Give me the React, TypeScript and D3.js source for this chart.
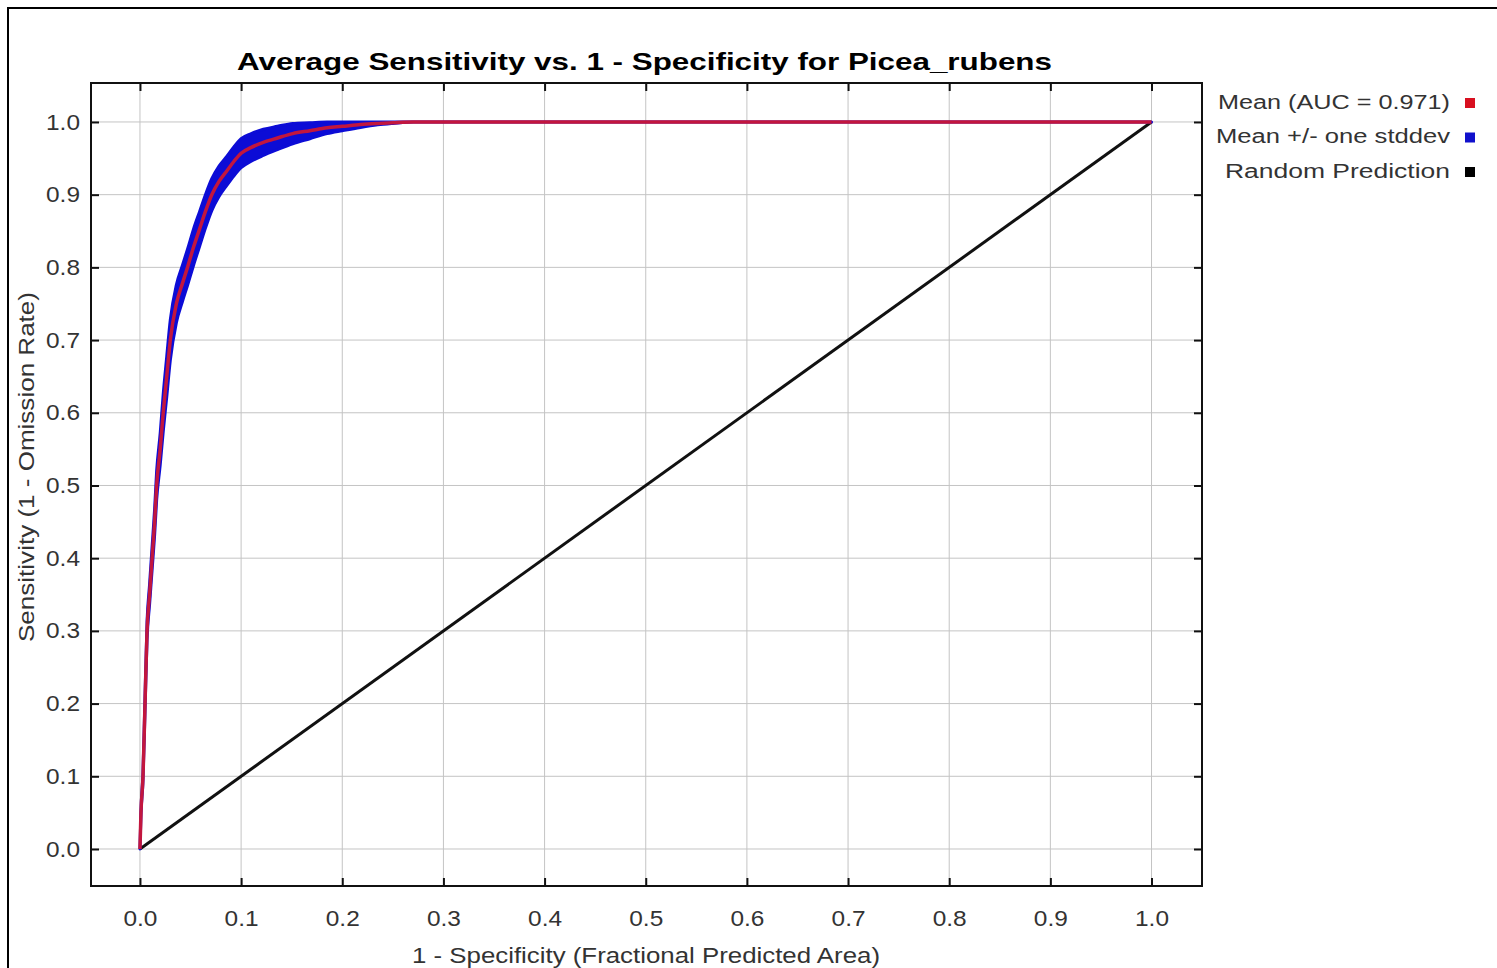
import React, { useEffect, useRef } from "react";
import * as d3 from "d3";

// ROC data
const fpr = [0, 0.001, 0.003, 0.005, 0.007, 0.0095, 0.012, 0.0145, 0.0165, 0.02, 0.023, 0.0265, 0.03, 0.036, 0.042, 0.047, 0.053, 0.059, 0.065, 0.071, 0.078, 0.086, 0.093, 0.1, 0.11, 0.122, 0.136, 0.151, 0.168, 0.185, 0.2, 0.218, 0.235, 0.25, 0.27, 0.35, 0.5, 0.75, 1.0];
const meanSens = [0, 0.05, 0.1, 0.2, 0.3, 0.35, 0.4, 0.45, 0.5, 0.55, 0.6, 0.65, 0.7, 0.75, 0.778, 0.8, 0.828, 0.853, 0.878, 0.9, 0.918, 0.933, 0.946, 0.957, 0.965, 0.972, 0.978, 0.984, 0.988, 0.992, 0.994, 0.9965, 0.998, 0.999, 1, 1, 1, 1, 1];
const sdSens = [0, 0.003, 0.006, 0.01, 0.012, 0.014, 0.016, 0.018, 0.02, 0.022, 0.026, 0.028, 0.028, 0.026, 0.025, 0.025, 0.025, 0.024, 0.023, 0.022, 0.021, 0.02, 0.02, 0.02, 0.019, 0.018, 0.016, 0.014, 0.011, 0.008, 0.006, 0.004, 0.002, 0.001, 0, 0, 0, 0, 0];
const randomFpr = [0, 1];
const randomSens = [0, 1];

const tickValues = [0, 0.1, 0.2, 0.3, 0.4, 0.5, 0.6, 0.7, 0.8, 0.9, 1.0];
const legendLabels = ["Mean (AUC = 0.971)", "Mean +/- one stddev", "Random Prediction"];
const legendColors = ["#d81020", "#1010cc", "#000000"];

const App = () => {
  const svgRef = useRef(null);

  useEffect(() => {
    const svg = d3.select(svgRef.current);
    svg.selectAll("*").remove();

    const width = 1497;
    const height = 968;
    const plot = { left: 91, right: 1202, top: 83, bottom: 886 };
    const font = "'Liberation Sans', Arial, sans-serif";

    svg.append("rect").attr("width", width).attr("height", height).attr("fill", "#fff");

    // outer frame (cropped at right/bottom)
    svg.append("path")
      .attr("d", `M8,${height + 2}V8H${width + 2}`)
      .attr("fill", "none").attr("stroke", "#000").attr("stroke-width", 2);

    const x = d3.scaleLinear().domain([-0.0484, 1.0499]).range([plot.left, plot.right]);
    const y = d3.scaleLinear().domain([-0.0509, 1.0536]).range([plot.bottom, plot.top]);

    // grid
    const grid = svg.append("g").attr("stroke", "#c4c4c4").attr("stroke-width", 1);
    grid.selectAll("line.v").data(tickValues).join("line").attr("class", "v")
      .attr("x1", d => x(d)).attr("x2", d => x(d))
      .attr("y1", plot.top).attr("y2", plot.bottom);
    grid.selectAll("line.h").data(tickValues).join("line").attr("class", "h")
      .attr("y1", d => y(d)).attr("y2", d => y(d))
      .attr("x1", plot.left).attr("x2", plot.right);

    const idx = d3.range(fpr.length);

    // random prediction
    const randLine = d3.line<number>().x(i => x(randomFpr[i])).y(i => y(randomSens[i]));
    svg.append("path").attr("d", randLine([0, 1]))
      .attr("fill", "none").attr("stroke", "#111").attr("stroke-width", 3);

    // stddev band
    const band = d3.area<number>()
      .x(i => x(fpr[i]))
      .y0(i => y(Math.max(0, meanSens[i] - sdSens[i])))
      .y1(i => y(Math.min(1, meanSens[i] + sdSens[i])))
      .curve(d3.curveMonotoneX);
    svg.append("path").attr("d", band(idx))
      .attr("fill", "#0c0cd6").attr("stroke", "#0c0cd6")
      .attr("stroke-width", 3).attr("stroke-linejoin", "round");

    // mean line
    const meanLine = d3.line<number>().x(i => x(fpr[i])).y(i => y(meanSens[i])).curve(d3.curveMonotoneX);
    svg.append("path").attr("d", meanLine(idx))
      .attr("fill", "none").attr("stroke", "#c2163e").attr("stroke-width", 3.5)
      .attr("stroke-linejoin", "round");

    // plot frame
    svg.append("rect")
      .attr("x", plot.left).attr("y", plot.top)
      .attr("width", plot.right - plot.left).attr("height", plot.bottom - plot.top)
      .attr("fill", "none").attr("stroke", "#111").attr("stroke-width", 2);

    const fmt = d3.format(".1f");
    const styleAxis = g => {
      g.select(".domain").remove();
      g.selectAll(".tick line").attr("stroke", "#111").attr("stroke-width", 2);
      g.selectAll(".tick text")
        .attr("fill", "#333")
        .style("font-family", font)
        .style("font-size", "22px")
        .attr("textLength", 34)
        .attr("lengthAdjust", "spacingAndGlyphs");
    };

    svg.append("g").attr("transform", `translate(0,${plot.bottom})`)
      .call(d3.axisBottom(x).tickValues(tickValues).tickFormat(fmt).tickSizeInner(-8).tickSizeOuter(0).tickPadding(24))
      .call(styleAxis);
    svg.append("g").attr("transform", `translate(${plot.left},0)`)
      .call(d3.axisLeft(y).tickValues(tickValues).tickFormat(fmt).tickSizeInner(-8).tickSizeOuter(0).tickPadding(11))
      .call(styleAxis);
    svg.append("g").attr("transform", `translate(0,${plot.top})`)
      .call(d3.axisTop(x).tickValues(tickValues).tickFormat(() => "").tickSizeInner(-8).tickSizeOuter(0))
      .call(styleAxis);
    svg.append("g").attr("transform", `translate(${plot.right},0)`)
      .call(d3.axisRight(y).tickValues(tickValues).tickFormat(() => "").tickSizeInner(-8).tickSizeOuter(0))
      .call(styleAxis);

    // title
    svg.append("text")
      .attr("x", 644.5).attr("y", 70)
      .attr("text-anchor", "middle")
      .attr("textLength", 815).attr("lengthAdjust", "spacingAndGlyphs")
      .style("font-family", font).style("font-size", "24px").style("font-weight", "bold")
      .attr("fill", "#000")
      .text("Average Sensitivity vs. 1 - Specificity for Picea_rubens");

    // axis labels
    svg.append("text")
      .attr("x", 646).attr("y", 963)
      .attr("text-anchor", "middle")
      .attr("textLength", 468).attr("lengthAdjust", "spacingAndGlyphs")
      .style("font-family", font).style("font-size", "22px")
      .attr("fill", "#333")
      .text("1 - Specificity (Fractional Predicted Area)");

    svg.append("text")
      .attr("transform", "translate(34,467) rotate(-90)")
      .attr("text-anchor", "middle")
      .attr("textLength", 350).attr("lengthAdjust", "spacingAndGlyphs")
      .style("font-family", font).style("font-size", "22px")
      .attr("fill", "#333")
      .text("Sensitivity (1 - Omission Rate)");

    // legend
    const legendBaselines = [108.5, 143, 177.5];
    const legendLengths = [232, 234, 225];
    const legend = svg.append("g");
    legendLabels.forEach((label, i) => {
      legend.append("text")
        .attr("x", 1450).attr("y", legendBaselines[i])
        .attr("text-anchor", "end")
        .attr("textLength", legendLengths[i]).attr("lengthAdjust", "spacingAndGlyphs")
        .style("font-family", font).style("font-size", "20px")
        .attr("fill", "#333")
        .text(label);
      legend.append("rect")
        .attr("x", 1465).attr("y", legendBaselines[i] - 10.5)
        .attr("width", 10).attr("height", 10)
        .attr("fill", legendColors[i]);
    });
  }, []);

  return (
    <svg
      ref={svgRef}
      width={1497}
      height={968}
      style={{ position: "absolute", left: 0, top: 0, display: "block" }}
    />
  );
};

export default App;
